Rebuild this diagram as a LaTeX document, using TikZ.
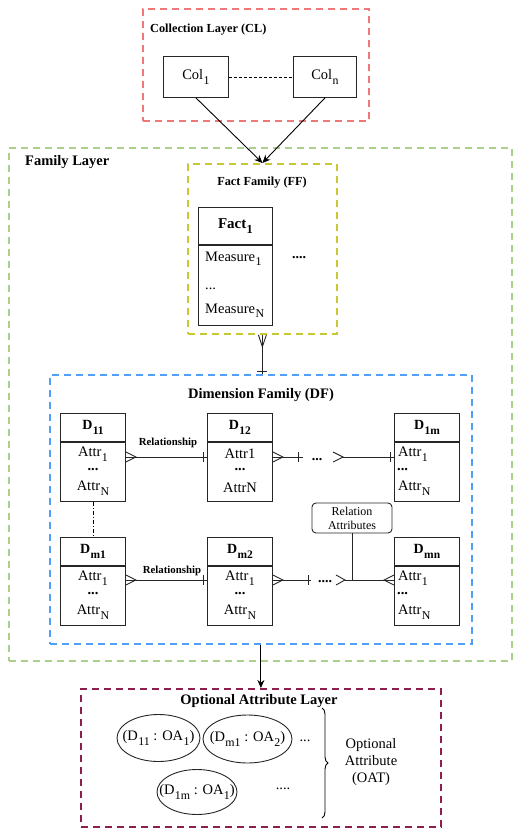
\documentclass[tikz,border=0pt]{standalone}
\usepackage{fontspec}
\usepackage{graphicx}
\setmainfont{Liberation Serif}
\usetikzlibrary{calc,arrows.meta,shapes.geometric,decorations.pathreplacing}
\definecolor{clred}{RGB}{240,120,120}
\definecolor{flgreen}{RGB}{170,208,140}
\definecolor{ffyellow}{RGB}{200,200,50}
\definecolor{dfblue}{RGB}{80,160,250}
\definecolor{oamaroon}{RGB}{140,30,80}
\newcommand\fsz[2]{\fontsize{#1}{#2}\selectfont}
\newcommand\sbs[1]{\kern0.4pt\raisebox{-0.32em}{\scalebox{0.82}{#1}}}
\newcommand\crowfoot[3]{\draw[er] ($(#1)+(0,-#3)$) -- ($(#1)+(#2,0)$) -- ($(#1)+(0,#3)$);}
\newcommand\erbar[1]{\draw[er] ($(#1)+(0,-5)$) -- ($(#1)+(0,5)$);}
\newcommand\dimtab[8]{%
  \node[hdr] (#1h) at (#2,#3) {#4};
  \node[body] (#1) at (#1h.south) {};
  \node[txt,#8] (#1a) at ($(#1.#7)+(0,12)$) {#5};
  \node[txt,inner sep=0,#8] (#1d) at ($(#1.#7)+(0,28)$) {\textbf{...}};
  \node[txt,#8] (#1n) at ($(#1.#7)+(0,46)$) {#6};
}
\begin{document}
\begin{tikzpicture}[x=1pt,y=-1pt,
  layerbox/.style={line width=1.8pt, dash pattern=on 7pt off 5pt, anchor=north west, inner sep=0},
  box/.style={draw=black!85, line width=0.9pt, inner sep=0},
  txt/.style={inner sep=1pt, font=\fsz{14.5}{16}},
  hdr/.style={box, minimum width=65pt, minimum height=28pt, anchor=north west, font=\bfseries\fsz{14}{16}},
  body/.style={box, minimum width=65pt, minimum height=59pt, anchor=north},
  er/.style={line width=0.9pt, draw=black!85},
  arr/.style={line width=0.9pt, -{Stealth[length=8pt,width=7pt]}},
  rel/.style={inner sep=1pt, font=\bfseries\fsz{10.8}{12}},
  ell/.style={draw=black!85, ellipse, line width=0.9pt, inner sep=0},
  elltxt/.style={inner sep=0, font=\fsz{14.5}{16}}
]
\useasboundingbox (0,0) rectangle (513,829);

% layer boxes
\node[layerbox, draw=clred, minimum width=226pt, minimum height=112pt] (cl) at (142,8) {};
\node[layerbox, draw=flgreen, minimum width=503pt, minimum height=513pt] (fl) at (8,147) {};
\node[layerbox, draw=ffyellow, minimum width=149pt, minimum height=170pt] (ff) at (187,163) {};
\node[layerbox, draw=dfblue, minimum width=422pt, minimum height=269pt] (df) at (49,374) {};
\node[layerbox, draw=oamaroon, minimum width=360pt, minimum height=138pt] (oal) at (80,688) {};

% titles
\node[anchor=west, inner sep=0, font=\bfseries\fsz{12.3}{14}] (cltitle) at (150,30) {Collection Layer (CL)};
\node[anchor=west, inner sep=0, font=\bfseries\fsz{14.5}{17}] (fltitle) at (25,162) {Family Layer};
\node[inner sep=0, font=\bfseries\fsz{12.3}{14}] (fftitle) at (262,183) {Fact Family (FF)};
\node[inner sep=0, font=\bfseries\fsz{14.5}{17}] (dftitle) at (261,395) {Dimension Family (DF)};
\node[inner sep=0, font=\bfseries\fsz{14.5}{17}] (oaltitle) at (259,701) {Optional Attribute Layer};

% collection layer
\node[box, minimum width=65pt, minimum height=41pt, anchor=north west, font=\fsz{14.5}{16}] (col1) at (163,56) {Col\sbs{1}};
\node[box, minimum width=63pt, minimum height=41pt, anchor=north west, font=\fsz{14.5}{16}] (coln) at (293,56) {Col\sbs{n}};
\draw[line width=0.8pt, dash pattern=on 3pt off 2pt] (col1) -- (coln);
\draw[arr] (col1.south) -- (ff.north);
\draw[arr] (coln.south) -- (ff.north);

% fact table
\node[box, minimum width=74pt, minimum height=37pt, anchor=north west, font=\bfseries\fsz{15}{17}] (facth) at (198,207) {Fact\sbs{1}};
\node[box, minimum width=74pt, minimum height=80pt, anchor=north] (fact) at (facth.south) {};
\node[txt, anchor=west] (m1) at ($(fact.north west)+(6,14)$) {Measure\sbs{1}};
\node[txt, anchor=west, inner sep=0] (md) at ($(fact.north west)+(7,44)$) {...};
\node[txt, anchor=west] (mn) at ($(fact.north west)+(6,66)$) {Measure\sbs{N}};
\node[txt, inner sep=0, font=\bfseries\fsz{14}{16}] (fdots) at (299,258) {....};

% fact -> dimension connector
\coordinate (g1) at (ff.south);
\coordinate (g2) at (ff.south |- df.north);
\draw[er] (g1) -- (g2);
\draw[er] ($(g1)+(-4,0)$) -- ($(g1)+(0,12)$) -- ($(g1)+(4,0)$);
\draw[er] ($(g2)+(-5,-3)$) -- ($(g2)+(5,-3)$);

% dimension tables
\dimtab{d11}{60}{413}{D\sbs{11}}{Attr\sbs{1}}{Attr\sbs{N}}{north}{anchor=center}
\dimtab{d12}{207}{413}{D\sbs{12}}{Attr1}{AttrN}{north}{anchor=center}
\dimtab{d1m}{394}{413}{D\sbs{1m}}{Attr\sbs{1}}{Attr\sbs{N}}{north west}{anchor=west,xshift=3pt}
\dimtab{dm1}{60}{537}{D\sbs{m1}}{Attr\sbs{1}}{Attr\sbs{N}}{north}{anchor=center}
\dimtab{dm2}{207}{537}{D\sbs{m2}}{Attr\sbs{1}}{Attr\sbs{N}}{north}{anchor=center}
\dimtab{dmn}{394}{537}{D\sbs{mn}}{Attr\sbs{1}}{Attr\sbs{N}}{north west}{anchor=west,xshift=3pt}

\draw[line width=0.9pt, dash pattern=on 4pt off 2pt on 1pt off 2pt] (d11.south) -- (dm1h.north);

% row 1
\coordinate (r1) at (0,457);
\coordinate (a1) at (d11.east |- r1);
\coordinate (b1) at (d12.west |- r1);
\draw[er] (a1) -- (b1);
\crowfoot{a1}{10}{5}
\erbar{$(b1)+(-4,0)$}
\node[rel] (rel1) at (168,443) {Relationship};
\coordinate (c1) at (d12.east |- r1);
\draw[er] (c1) -- ($(c1)+(30,0)$);
\crowfoot{c1}{10}{5}
\erbar{$(c1)+(26,0)$}
\node[txt, inner sep=0, font=\bfseries\fsz{14}{16}] (dots1) at (317,460) {...};
\coordinate (e1) at (d1m.west |- r1);
\coordinate (f1) at ($(e1)+(-51,0)$);
\draw[er] (f1) -- (e1);
\draw[er] ($(f1)+(-10,-5)$) -- (f1) -- ($(f1)+(-10,5)$);
\erbar{$(e1)+(-4,0)$}

% row 2
\coordinate (r2) at (0,580);
\coordinate (a2) at (dm1.east |- r2);
\coordinate (b2) at (dm2.west |- r2);
\draw[er] (a2) -- (b2);
\crowfoot{a2}{10}{5}
\erbar{$(b2)+(-4,0)$}
\node[rel] (rel2) at (172,571) {Relationship};
\coordinate (c2) at (dm2.east |- r2);
\draw[er] (c2) -- ($(c2)+(38,0)$);
\crowfoot{c2}{10}{5}
\erbar{$(c2)+(36,0)$}
\node[txt, inner sep=0, font=\bfseries\fsz{14}{16}] (dots2) at (325,582) {....};
\coordinate (e2) at (dmn.west |- r2);
\coordinate (f2) at ($(e2)+(-49,0)$);
\draw[er] (f2) -- (e2);
\draw[er] ($(f2)+(-9,-5)$) -- (f2) -- ($(f2)+(-9,5)$);
\crowfoot{e2}{-10}{5}
\node[draw=black!85, rounded corners=4pt, line width=0.9pt, minimum width=80pt, minimum height=30pt, align=center, inner sep=0, font=\fsz{12}{14}] (ra) at (352,518) {Relation\\Attributes};
\draw[er] (ra.south) -- (ra.south |- r2);

% df -> oal
\draw[arr] (df.south) -- (oal.north);

% optional attribute layer
\node[ell, minimum width=83pt, minimum height=47pt] (e11) at (158.5,738) {};
\node[elltxt] (e11t) at (e11.center) {(D\sbs{11} : OA\sbs{1})};
\node[ell, minimum width=89pt, minimum height=48pt] (em1) at (247.5,739) {};
\node[elltxt] (em1t) at (em1.center) {(D\sbs{m1} : OA\sbs{2})};
\node[ell, minimum width=80pt, minimum height=45pt] (e1m) at (197,792) {};
\node[elltxt] (e1mt) at (e1m.center) {(D\sbs{1m} : OA\sbs{1})};
\node[txt, inner sep=0] (odots1) at (305,741) {...};
\node[txt, inner sep=0] (odots2) at (283,789) {....};
\coordinate (brt) at (322,708);
\coordinate (brb) at (322,818);
\draw[line width=0.9pt, decorate, decoration={brace, amplitude=6pt}] (brt) -- (brb);
\node[inner sep=0, align=center, font=\fsz{14.5}{17}] (oat) at (371,762) {Optional\\Attribute\\(OAT)};
\end{tikzpicture}
\end{document}
